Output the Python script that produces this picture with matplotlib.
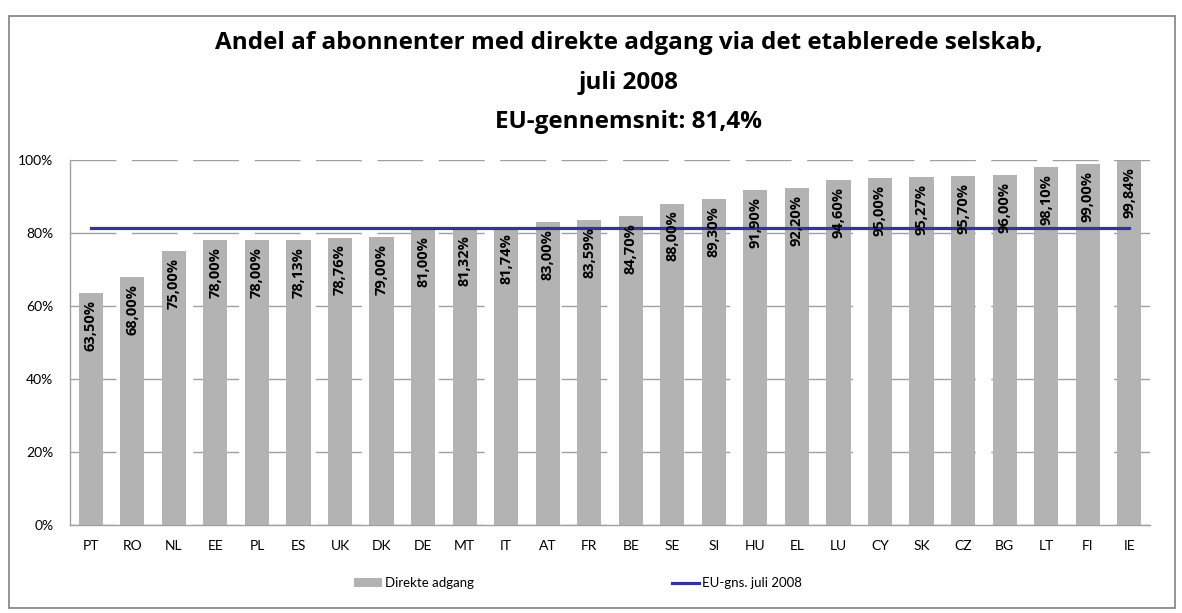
import numpy as np
import matplotlib
matplotlib.use("Agg")
from matplotlib import pyplot as plt
from matplotlib.patches import Patch, Rectangle
from matplotlib.lines import Line2D

plt.rcParams['font.family'] = ['Lato', 'DejaVu Sans']
plt.rcParams['lines.scale_dashes'] = False
bold_font = ['Open Sans', 'DejaVu Sans']

countries = ['PT', 'RO', 'NL', 'EE', 'PL', 'ES', 'UK', 'DK', 'DE', 'MT', 'IT', 'AT', 'FR',
             'BE', 'SE', 'SI', 'HU', 'EL', 'LU', 'CY', 'SK', 'CZ', 'BG', 'LT', 'FI', 'IE']
direct_access = [63.50, 68.00, 75.00, 78.00, 78.00, 78.13, 78.76, 79.00, 81.00, 81.32, 81.74, 83.00, 83.59,
                 84.70, 88.00, 89.30, 91.90, 92.20, 94.60, 95.00, 95.27, 95.70, 96.00, 98.10, 99.00, 99.84]
eu_avg = 81.4
yticks = [0, 20, 40, 60, 80, 100]

bar_col = '#B3B3B3'
line_col = '#333399'
grid_col = '#A0A0A0'

fig = plt.figure(figsize=(11.82, 6.13), dpi=100)
ax = fig.add_axes([70 / 1182, 88 / 613, 1080 / 1182, 365 / 613])

x = np.arange(len(countries))
ax.bar(x, direct_access, width=0.58, color=bar_col, zorder=2)
ax.plot(x, [eu_avg] * len(x), color=line_col, linewidth=2.3, zorder=3)

for xi, v in zip(x, direct_access):
    lbl = f"{v:.2f}%".replace('.', ',')
    ax.annotate(lbl, (xi, v), xytext=(0, -5), textcoords='offset points',
                rotation=90, ha='center', va='top', fontsize=10.5, family=bold_font,
                fontweight='bold', color='black', zorder=4)

ax.set_xlim(-0.5, len(countries) - 0.5)
ax.set_ylim(0, 100)
ax.set_yticks(yticks)
ax.set_yticklabels([f"{t}%" for t in yticks])
ax.set_xticks(x)
ax.set_xticklabels(countries)
ax.tick_params(axis='both', length=0, labelsize=10, colors='black')
ax.tick_params(axis='x', pad=11)
ax.tick_params(axis='y', pad=12)

ax.yaxis.grid(True, color=grid_col, linewidth=1.0, linestyle=(0, (33, 11.2)), zorder=1)
ax.set_axisbelow(True)
for s in ['top', 'right']:
    ax.spines[s].set_visible(False)
for s in ['left', 'bottom']:
    ax.spines[s].set_color(grid_col)
    ax.spines[s].set_linewidth(1.0)

# title, three lines
title_kw = dict(ha='center', va='center', fontsize=17.5, fontweight='bold', family=bold_font)
fig.text(0.532, 1 - 43 / 613, 'Andel af abonnenter med direkte adgang via det etablerede selskab,', **title_kw)
fig.text(0.532, 1 - 83 / 613, 'juli 2008', **title_kw)
fig.text(0.532, 1 - 122 / 613, 'EU-gennemsnit: 81,4%', **title_kw)

handles = [Patch(facecolor=bar_col, edgecolor='none'),
           Line2D([0], [0], color=line_col, linewidth=2.3)]
fig.legend(handles, ['Direkte adgang', 'EU-gns. juli 2008'], ncol=2, frameon=False,
           loc='center', bbox_to_anchor=(578 / 1182, 1 - 583 / 613), fontsize=9.5,
           handlelength=2.1, handleheight=0.6, handletextpad=0.2, columnspacing=15)

fig.patches.append(Rectangle((9 / 1182, 5 / 613), 1166 / 1182, 592 / 613, transform=fig.transFigure,
                             fill=False, edgecolor='#808080', linewidth=1.2))

fig.savefig('out.png', dpi=100)
